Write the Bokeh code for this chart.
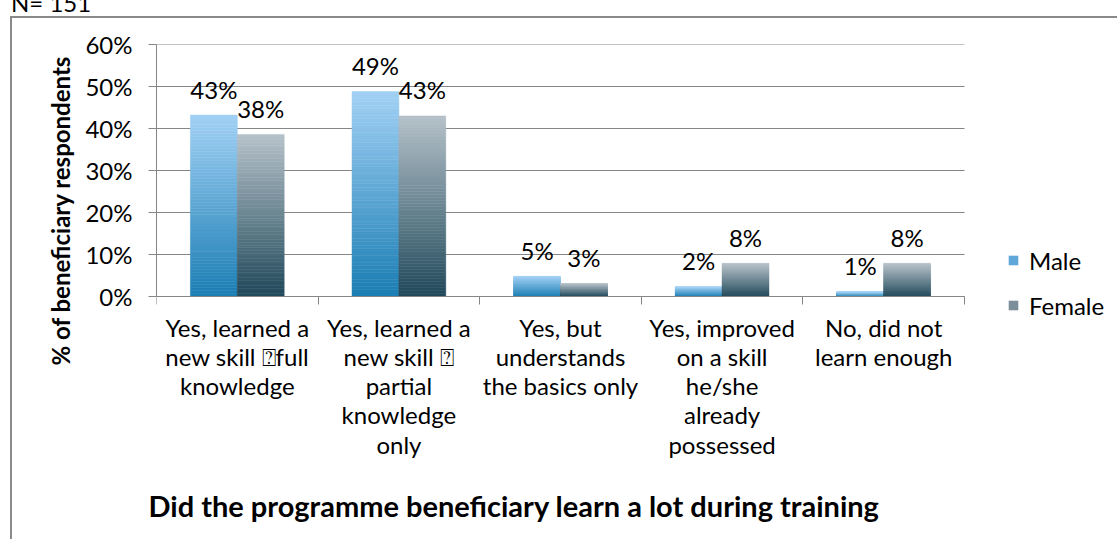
import numpy as np
from bokeh.plotting import figure
from bokeh.layouts import column
from bokeh.models import (ColumnDataSource, FixedTicker, Legend, LegendItem,
                          Range1d, Title, Div)
from bokeh.core.properties import value
from bokeh.embed import file_html
from bokeh.resources import INLINE

# ---- data ----
categories = [
    "Yes, learned a\nnew skill \u2370full\nknowledge",
    "Yes, learned a\nnew skill \u2370\npartial\nknowledge\nonly",
    "Yes, but\nunderstands\nthe basics only",
    "Yes, improved\non a skill\nhe/she\nalready\npossessed",
    "No, did not\nlearn enough",
]
series = ["Male", "Female"]
male = [43.2, 48.8, 4.8, 2.3, 1.1]
female = [38.6, 43.0, 3.1, 7.9, 7.9]
male_labels = ["43%", "49%", "5%", "2%", "1%"]
female_labels = ["38%", "43%", "3%", "8%", "8%"]
y_ticks = [0, 10, 20, 30, 40, 50, 60]
y_tick_labels = ["0%", "10%", "20%", "30%", "40%", "50%", "60%"]
x_title = "Did the programme beneficiary learn a lot during training"
y_title = "% of beneficiary respondents"
note = "N= 151"

# ---- styles / layout constants (pixels) ----
FONT = "Lato"
FS = "24px"
GRID = "#868686"
BORDER = "#8a8a8a"
male_top, male_bottom = (162, 209, 245), (26, 125, 179)
female_top, female_bottom = (182, 194, 202), (31, 72, 89)
male_mid, female_mid = "#5fa6d9", "#7c8e99"
BAR_W = 0.29
NSEG = 60

W, H = 1107, 523                 # canvas size
FRAME_L, FRAME_T = 144, 26       # frame left / top inside the canvas
AXIS_Y = 278                     # pixel row of the value axis zero line
FRAME_B = 452                    # frame bottom (extended below the axis labels)
CAT_PX = 161.6                   # pixels per category
VAL_PX = (AXIS_Y - FRAME_T) / 60.0
n_cat = len(categories)
x_end = (W - FRAME_L) / CAT_PX
y_start = -(FRAME_B - AXIS_Y) / VAL_PX

def hexc(c):
    return "#%02x%02x%02x" % tuple(int(round(v)) for v in c)

def gradient_source(vals, offset, top_c, bot_c):
    l, r, b, t, col = [], [], [], [], []
    for i, v in enumerate(vals):
        x0 = i + 0.5 + offset
        for k in range(NSEG):
            f = (k + 0.5) / NSEG
            l.append(x0)
            r.append(x0 + BAR_W)
            b.append(v * k / NSEG)
            t.append(v * (k + 1) / NSEG)
            col.append(hexc([bc + (tc - bc) * f for tc, bc in zip(top_c, bot_c)]))
    return ColumnDataSource(dict(left=l, right=r, bottom=b, top=t, color=col))

p = figure(width=W, height=H, output_backend="svg", toolbar_location=None,
           x_range=Range1d(0, x_end), y_range=Range1d(y_start, 60),
           min_border_left=FRAME_L, min_border_right=0,
           min_border_top=FRAME_T, min_border_bottom=H - FRAME_B,
           margin=(0, 0, 0, 10),
           styles={"border-left": "2px solid " + BORDER,
                   "border-top": "2px solid " + BORDER})
p.outline_line_color = None
p.background_fill_color = "white"
p.border_fill_color = "white"
p.xgrid.grid_line_color = None
p.ygrid.grid_line_color = None

# horizontal gridlines over the category span only
p.segment(x0=[0] * len(y_ticks), x1=[n_cat] * len(y_ticks), y0=y_ticks, y1=y_ticks,
          line_color=GRID, line_width=1)

for src in (gradient_source(male, -BAR_W, male_top, male_bottom),
            gradient_source(female, 0.0, female_top, female_bottom)):
    p.quad(left="left", right="right", bottom="bottom", top="top", source=src,
           fill_color="color", line_color="color", line_width=0.5)

# data labels
centers = [i + 0.5 for i in range(n_cat)]
p.text(x=[c - BAR_W / 2 for c in centers], y=male, text=male_labels,
       text_align="center", text_baseline="alphabetic", y_offset=-26,
       text_font=value(FONT), text_font_size=FS, text_color="black")
p.text(x=[c + BAR_W / 2 for c in centers], y=female, text=female_labels,
       text_align="center", text_baseline="alphabetic", y_offset=-26,
       text_font=value(FONT), text_font_size=FS, text_color="black")

# legend (representative colours, zero-size marks)
rm = p.quad(left=[0], right=[0], bottom=[0], top=[0], fill_color=male_mid, line_color=None)
rf = p.quad(left=[0], right=[0], bottom=[0], top=[0], fill_color=female_mid, line_color=None)
legend = Legend(items=[LegendItem(label=series[0], renderers=[rm]),
                       LegendItem(label=series[1], renderers=[rf])],
                location=(851, 150), glyph_width=12, glyph_height=12,
                label_text_font=FONT, label_text_font_size=FS, label_text_color="black",
                label_standoff=10, spacing=15, label_height=30, padding=0, margin=0,
                border_line_alpha=0, background_fill_alpha=0)
p.add_layout(legend)

# y axis
p.yaxis.bounds = (0, 60)
p.yaxis.ticker = FixedTicker(ticks=y_ticks, minor_ticks=[])
p.yaxis.major_label_overrides = {t: s for t, s in zip(y_ticks, y_tick_labels)}
p.yaxis.major_tick_out = 8
p.yaxis.major_tick_in = 0
p.yaxis.minor_tick_out = 0
p.yaxis.axis_line_color = GRID
p.yaxis.major_tick_line_color = GRID
p.yaxis.major_label_standoff = 16
p.yaxis.major_label_text_font = FONT
p.yaxis.major_label_text_font_size = FS
p.yaxis.major_label_text_color = "black"

# x axis at value 0: labels at category centres, ticks at boundaries
p.xaxis.fixed_location = 0
p.xaxis.bounds = (0, n_cat)
p.xaxis.ticker = FixedTicker(ticks=centers, minor_ticks=list(range(n_cat + 1)))
p.xaxis.major_label_overrides = {c: s for c, s in zip(centers, categories)}
p.xaxis.major_tick_out = 0
p.xaxis.major_tick_in = 0
p.xaxis.minor_tick_out = 8
p.xaxis.minor_tick_in = 0
p.xaxis.minor_tick_line_color = GRID
p.xaxis.axis_line_color = GRID
p.xaxis.major_label_standoff = 8
p.xaxis.major_label_text_font = FONT
p.xaxis.major_label_text_font_size = FS
p.xaxis.major_label_text_color = "black"
p.xaxis.major_label_text_line_height = 1.01

p.add_layout(Title(text=x_title, align="left", offset=-8,
                   text_font=FONT, text_font_size="29px", text_font_style="bold",
                   text_color="black", standoff=31), "below")
p.add_layout(Title(text=y_title, align="left", offset=105,
                   text_font=FONT, text_font_size="24px", text_font_style="bold",
                   text_color="black", standoff=16), "left")

div = Div(text='<div style="font-family: Lato; font-size: 24px; line-height: 24px; '
               'margin-top: -25px; padding-left: 11px; color: black; white-space: nowrap;">'
               + note + '</div>',
          width=300, height=16, margin=0, styles={"overflow": "hidden"})

layout = column(div, p, spacing=0)
open("out.html", "w").write(file_html(layout, INLINE))
